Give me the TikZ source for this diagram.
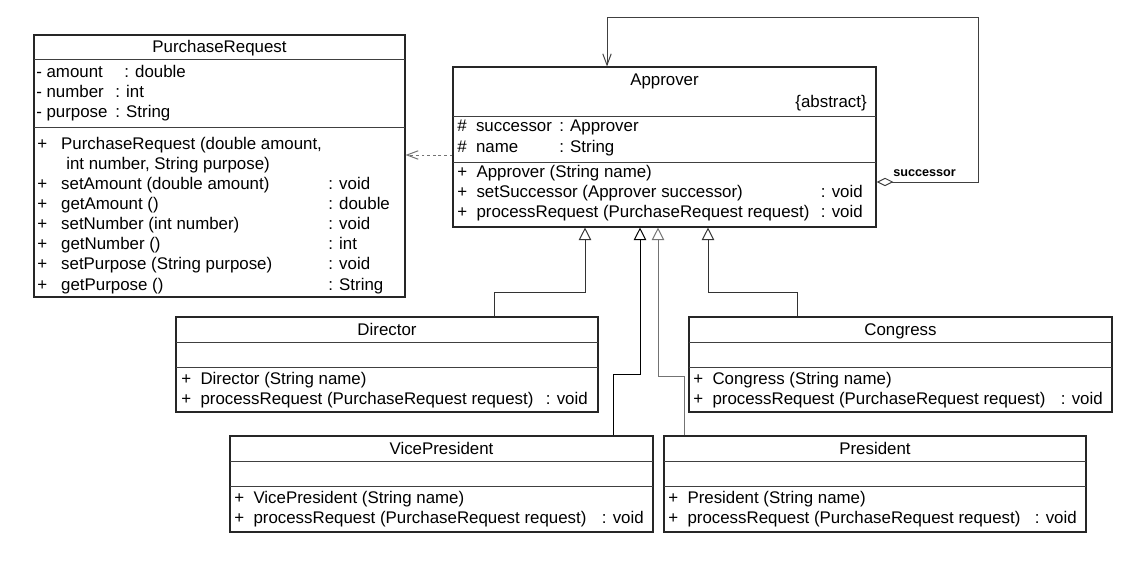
\documentclass[tikz,border=0pt]{standalone}
\usepackage{fontspec}
\setmainfont{Liberation Sans}
\usetikzlibrary{arrows.meta,fit}

\begin{document}
\begin{tikzpicture}[x=0.025cm, y=-0.025cm,
  font=\fontsize{12}{14}\selectfont,
  classbox/.style={draw=black!85, line width=0.8pt, inner sep=0pt, fill=white},
  divider/.style={draw=black!75, line width=0.7pt},
  cname/.style={anchor=base, inner sep=0pt},
  member/.style={anchor=base west, inner sep=0pt},
  rettype/.style={anchor=base east, inner sep=0pt},
  rolename/.style={anchor=base west, inner sep=0pt, font=\fontsize{9}{10}\selectfont\bfseries},
  inherit/.style={draw=black!80, line width=0.7pt, -{Triangle[open, length=9pt, width=9pt]}},
  dep/.style={draw=black!55, line width=0.7pt, dash pattern=on 2pt off 2pt, -{Straight Barb[length=8pt, width=6pt]}},
  assoc/.style={draw=black!75, line width=0.7pt, {Diamond[open, length=12pt, width=6pt]}-{Straight Barb[length=8pt, width=6pt]}}]
  \useasboundingbox (0,0) rectangle (1148,563);

  % PurchaseRequest
  \node[classbox, fit={(34,35) (405,297)}] (purchase) {};
  \draw[divider] (34,59) -- (405,59);
  \draw[divider] (34,127) -- (405,127);
  \node[cname] (pr-name) at (219.5,53) {PurchaseRequest};
  \node[member] (pr-a1) at (36,78) {- amount};
  \node[member] (pr-t1) at (124,78) {: double};
  \node[member] (pr-a2) at (36,98) {- number};
  \node[member] (pr-t2) at (115,98) {: int};
  \node[member] (pr-a3) at (36,118) {- purpose};
  \node[member] (pr-t3) at (115,118) {: String};
  \node[member] (pr-m1) at (37,150) {+~~~PurchaseRequest (double amount,};
  \node[member] (pr-m1b) at (66,170) {int number, String purpose)};
  \node[member] (pr-m2) at (37,190) {+~~~setAmount (double amount)};
  \node[member] (pr-r2) at (328,190) {: void};
  \node[member] (pr-m3) at (37,210) {+~~~getAmount ()};
  \node[member] (pr-r3) at (328,210) {: double};
  \node[member] (pr-m4) at (37,230) {+~~~setNumber (int number)};
  \node[member] (pr-r4) at (328,230) {: void};
  \node[member] (pr-m5) at (37,250) {+~~~getNumber ()};
  \node[member] (pr-r5) at (328,250) {: int};
  \node[member] (pr-m6) at (37,270) {+~~~setPurpose (String purpose)};
  \node[member] (pr-r6) at (328,270) {: void};
  \node[member] (pr-m7) at (37,290) {+~~~getPurpose ()};
  \node[member] (pr-r7) at (328,290) {: String};

  % Approver
  \node[classbox, fit={(453,67) (876,227)}] (approver) {};
  \draw[divider] (453,116) -- (876,116);
  \draw[divider] (453,162) -- (876,162);
  \node[cname] (ap-name) at (664.5,86) {Approver};
  \node[rettype] (ap-abs) at (867,108) {\{abstract\}};
  \node[member] (ap-a1) at (457,132) {\#~~successor};
  \node[member] (ap-t1) at (559,132) {: Approver};
  \node[member] (ap-a2) at (457,153) {\#~~name};
  \node[member] (ap-t2) at (559,153) {: String};
  \node[member] (ap-m1) at (457,178) {+~~Approver (String name)};
  \node[member] (ap-m2) at (457,198) {+~~setSuccessor (Approver successor)};
  \node[rettype] (ap-r2) at (863,198) {: void};
  \node[member] (ap-m3) at (457,218) {+~~processRequest (PurchaseRequest request)};
  \node[rettype] (ap-r3) at (863,218) {: void};

  % Director
  \node[classbox, fit={(176,317) (598,412)}] (director) {};
  \draw[divider] (176,342) -- (598,342);
  \draw[divider] (176,367) -- (598,367);
  \node[cname] (di-name) at (387,335) {Director};
  \node[member] (di-m1) at (181,384) {+~~Director (String name)};
  \node[member] (di-m2) at (181,404) {+~~processRequest (PurchaseRequest request)};
  \node[rettype] (di-r2) at (588,404) {: void};

  % Congress
  \node[classbox, fit={(689,317) (1112,412)}] (congress) {};
  \draw[divider] (689,342) -- (1112,342);
  \draw[divider] (689,367) -- (1112,367);
  \node[cname] (co-name) at (900.5,335) {Congress};
  \node[member] (co-m1) at (693,384) {+~~Congress (String name)};
  \node[member] (co-m2) at (693,404) {+~~processRequest (PurchaseRequest request)};
  \node[rettype] (co-r2) at (1103,404) {: void};

  % VicePresident
  \node[classbox, fit={(230,436) (653,532)}] (vice) {};
  \draw[divider] (230,461) -- (653,461);
  \draw[divider] (230,486) -- (653,486);
  \node[cname] (vp-name) at (441.5,454) {VicePresident};
  \node[member] (vp-m1) at (234,503) {+~~VicePresident (String name)};
  \node[member] (vp-m2) at (234,523) {+~~processRequest (PurchaseRequest request)};
  \node[rettype] (vp-r2) at (644,523) {: void};

  % President
  \node[classbox, fit={(664,436) (1086,532)}] (president) {};
  \draw[divider] (664,461) -- (1086,461);
  \draw[divider] (664,486) -- (1086,486);
  \node[cname] (ps-name) at (875,454) {President};
  \node[member] (ps-m1) at (668,503) {+~~President (String name)};
  \node[member] (ps-m2) at (668,523) {+~~processRequest (PurchaseRequest request)};
  \node[rettype] (ps-r2) at (1077,523) {: void};

  % dependency
  \coordinate (dep-y) at (430,155);
  \draw[dep] (approver.west |- dep-y) -- (purchase.east |- dep-y);

  % successor link
  \coordinate (loop-se) at (978,182);
  \coordinate (loop-nw) at (607,17);
  \draw[assoc] (approver.east |- loop-se) -- (loop-se) |- (loop-nw) -- (loop-nw |- approver.north);
  \node[rolename] (succ) at (893,177) {successor};

  % generalization
  \coordinate (dir-bend) at (494,292);
  \coordinate (dir-up) at (585,292);
  \draw[inherit] (dir-bend |- director.north) -- (dir-bend) -- (dir-up) -- (dir-up |- approver.south);
  \coordinate (con-bend) at (797,292);
  \coordinate (con-up) at (708,292);
  \draw[inherit] (con-bend |- congress.north) -- (con-bend) -- (con-up) -- (con-up |- approver.south);
  \coordinate (vp-bend) at (613,374);
  \coordinate (vp-up) at (640,374);
  \draw[inherit, draw=black] (vp-bend |- vice.north) -- (vp-bend) -- (vp-up) -- (vp-up |- approver.south);
  \coordinate (ps-bend) at (684,376);
  \coordinate (ps-up) at (658,376);
  \draw[inherit, draw=black!55] (ps-bend |- president.north) -- (ps-bend) -- (ps-up) -- (ps-up |- approver.south);
\end{tikzpicture}
\end{document}
